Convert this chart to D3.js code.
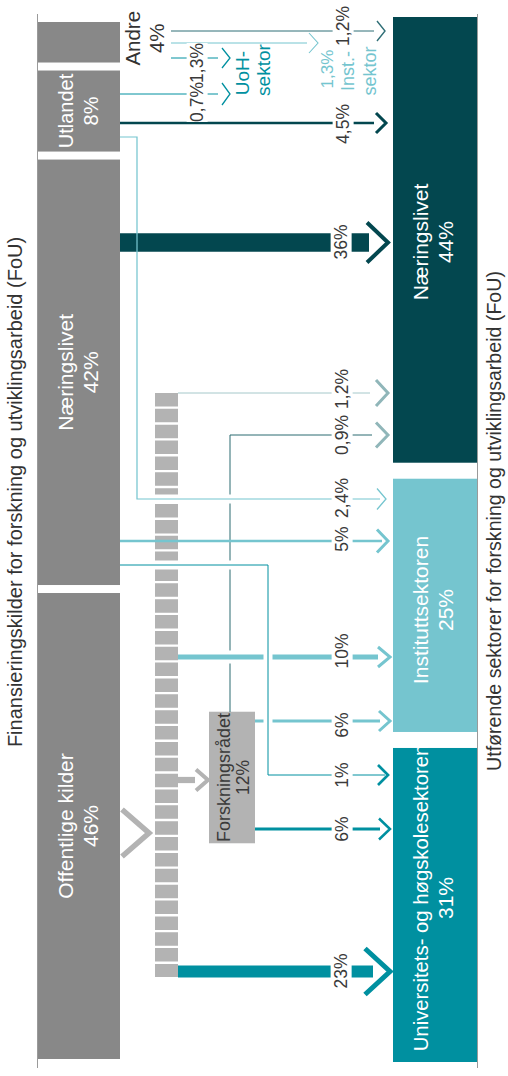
<!DOCTYPE html>
<html>
<head>
<meta charset="utf-8">
<script src="https://cdn.jsdelivr.net/npm/d3@7"></script>
<style>
  body { margin: 0; background: #fff; }
  svg { display: block; font-family: "Liberation Sans", Arial, Helvetica, sans-serif; }
</style>
</head>
<body>
<svg id="chart" width="508" height="1076"></svg>
<script>
// Funding sources (left column), share of total R&D expenditure, %
const sourceNames = ["Andre", "Utlandet", "Næringslivet", "Offentlige kilder"];
const sourceShares = [4, 8, 42, 46];

// Performing sectors (right column), share of total R&D expenditure, %
const sectorNames = ["Næringslivet", "Instituttsektoren", "Universitets- og høgskolesektoren"];
const sectorShares = [44, 25, 31];

// The Research Council channels part of the public funds
const councilName = "Forskningsrådet";
const councilShare = 12;

// Flows between funders and performers
const flowFrom   = ["Andre", "Andre", "Andre", "Utlandet", "Utlandet", "Utlandet",
                    "Næringslivet", "Næringslivet", "Næringslivet",
                    "Offentlige kilder", "Forskningsrådet", "Offentlige kilder",
                    "Forskningsrådet", "Forskningsrådet", "Offentlige kilder", "Offentlige kilder"];
const flowTo     = ["Næringslivet", "Instituttsektoren", "UoH", "UoH", "Næringslivet", "Instituttsektoren",
                    "Næringslivet", "Instituttsektoren", "UoH",
                    "Næringslivet", "Næringslivet", "Instituttsektoren",
                    "Instituttsektoren", "UoH", "UoH", "Forskningsrådet"];
const flowValues = [1.2, 1.3, 1.3, 0.7, 4.5, 2.4, 36, 5, 1, 1.2, 0.9, 10, 6, 6, 23, 12];
const flowLabels = ["1,2%", "1,3%", "1,3%", "0,7%", "4,5%", "2,4%", "36%", "5%", "1%",
                    "1,2%", "0,9%", "10%", "6%", "6%", "23%", ""];

const axisLeftTitle  = "Finansieringskilder for forskning og utviklingsarbeid (FoU)";
const axisRightTitle = "Utførende sektorer for forskning og utviklingsarbeid (FoU)";

// ---------------------------------------------------------------------------
// Styling
const C = {
  src: "#888888",
  council: "#b3b3b3",
  dark: "#03474f",
  darkThin: "#2f6e76",
  light: "#75c5cf",
  teal: "#0090a0",
  muted: "#90b6b9",
  mutedLine: "#a5c8ca",
  text: "#3a3a3a",
  axis: "#9a9a9a"
};
const sectorFill = [C.dark, C.light, C.teal];

const svg = d3.select("#chart");

// Share (%) → pixel length along the vertical axis
const share = d3.scaleLinear().domain([0, 100]).range([0, 1013]);
// Share (%) → stroke width of a flow band
const bandWidth = d3.scaleLinear().domain([0, 36]).range([0, 18.7]);
const widthOf = v => Math.max(1, bandWidth(v));

function stack(values, start, gap) {
  let y = start;
  return values.map(v => {
    const y0 = y, h = share(v);
    y += h + gap;
    return { y0, y1: y0 + h, h };
  });
}
const srcPos = stack(sourceShares, 22, 8);
const secPos = stack(sectorShares, 17, 16);

const SRC_X0 = 38, SRC_X1 = 120, SEC_X0 = 393, SEC_X1 = 477;

// Rotated (bottom-to-top) text centred on (x, y)
function vtext(parent, x, y, str, size, color) {
  return parent.append("text")
    .attr("transform", `translate(${x},${y}) rotate(-90)`)
    .attr("text-anchor", "middle")
    .attr("dy", "0.35em")
    .style("font-size", size + "px")
    .attr("fill", color)
    .text(str);
}

// ---------------------------------------------------------------------------
// Axis rules and titles
svg.append("line").attr("x1", 37.5).attr("x2", 37.5).attr("y1", 14).attr("y2", 1068)
  .attr("stroke", C.axis).attr("stroke-width", 1);
svg.append("line").attr("x1", 477.5).attr("x2", 477.5).attr("y1", 14).attr("y2", 1068)
  .attr("stroke", C.axis).attr("stroke-width", 1);
vtext(svg, 15, 492, axisLeftTitle, 20, "#333");
vtext(svg, 494, 521, axisRightTitle, 19.6, "#333");

// Source bars
const srcG = svg.append("g");
srcG.selectAll("rect").data(sourceNames).join("rect")
  .attr("x", SRC_X0).attr("width", SRC_X1 - SRC_X0)
  .attr("y", (d, i) => srcPos[i].y0).attr("height", (d, i) => srcPos[i].h)
  .attr("fill", C.src);

sourceNames.forEach((name, i) => {
  const cy = (srcPos[i].y0 + srcPos[i].y1) / 2;
  if (i === 0) {
    // the smallest bar carries its label outside
    vtext(srcG, 133, cy - 4, name, 20.5, "#333");
    vtext(srcG, 157, cy - 4, sourceShares[i] + "%", 20.5, "#333");
  } else {
    const size = i === 1 ? 20 : 21;
    vtext(srcG, 66, cy, name, size, "#fff");
    vtext(srcG, 91, cy, sourceShares[i] + "%", size, "#fff");
  }
});

// Sector bars
const secG = svg.append("g");
secG.selectAll("rect").data(sectorNames).join("rect")
  .attr("x", SEC_X0).attr("width", SEC_X1 - SEC_X0)
  .attr("y", (d, i) => secPos[i].y0).attr("height", (d, i) => secPos[i].h)
  .attr("fill", (d, i) => sectorFill[i]);

const sectorLabelY = [242, 610, 898];
const sectorLabelSize = [21, 21, 20.3];
sectorNames.forEach((name, i) => {
  vtext(secG, 421, sectorLabelY[i], name, sectorLabelSize[i], "#fff");
  vtext(secG, 446, sectorLabelY[i], sectorShares[i] + "%", 21, "#fff");
});

// ---------------------------------------------------------------------------
// Routing of each flow (diagram layout): polyline points, arrow tip,
// chevron [depth, half-height, stroke], label anchor
const routes = [
  { pts: [[171, 31], [374, 31]], tip: 385, head: [8, 10, 1.4], line: C.darkThin, hc: C.darkThin, lab: [343, 26] },
  { pts: [[171, 43], [307, 43]], tip: 318, head: [9, 10, 1.1], line: C.light, hc: C.light, lab: null },
  { pts: [[171, 58], [218, 58]], tip: 230, head: [8, 10, 1.3], line: C.teal, hc: C.teal, lab: [197, 63] },
  { pts: [[120, 94], [218, 94]], tip: 230, head: [8, 11, 1.3], line: C.teal, hc: C.teal, lab: [197, 102] },
  { pts: [[120, 123], [374, 123]], tip: 386, head: [10, 10, 3], line: C.dark, hc: C.dark, lab: [343, 124] },
  { pts: [[120, 137], [137, 137], [137, 499], [380, 499]], tip: 386, head: [9, 10.5, 1.3], line: C.light, hc: C.light, lab: [342, 498] },
  { pts: [[120, 242.5], [369, 242.5]], tip: 388, head: [21, 20, 4], line: C.dark, hc: C.dark, lab: [341, 242] },
  { pts: [[120, 541], [382, 541]], tip: 388, head: [11, 11.5, 3], line: C.light, hc: C.light, lab: [342, 539] },
  { pts: [[120, 565], [268, 565], [268, 775], [385, 775]], tip: 388, head: [10, 10, 2.7], line: C.teal, hc: C.teal, lab: [342, 775] },
  { pts: [[178, 393], [370, 393]], tip: 388, head: [12, 13, 3], line: C.mutedLine, hc: C.muted, lab: [342, 389] },
  { pts: [[230, 712], [230, 435], [372, 435]], tip: 388, head: [12, 12.5, 3], line: "#2a6a71", hc: C.muted, lab: [342, 435] },
  { pts: [[178, 657], [378, 657]], tip: 390, head: [12, 10, 3], line: C.light, hc: C.light, lab: [342, 651] },
  { pts: [[255, 721], [380, 721]], tip: 390, head: [11, 10, 3], line: C.light, hc: C.light, lab: [342, 725] },
  { pts: [[255, 829], [380, 829]], tip: 390, head: [11, 10.5, 2.5], line: C.teal, hc: C.teal, lab: [342, 829] },
  { pts: [[178, 971.5], [373, 971.5]], tip: 390, head: [25, 23, 5], line: C.teal, hc: C.teal, lab: [341, 971] },
  { pts: [[178, 780], [195, 780]], tip: 208, head: [12, 10.5, 4], line: C.council, hc: C.council, lab: null }
];

const flowsG = svg.append("g").attr("fill", "none");
const lineGen = d3.line();

function drawHalo(i) {
  flowsG.append("path").attr("d", lineGen(routes[i].pts))
    .attr("stroke", "#fff").attr("stroke-width", widthOf(flowValues[i]) + 8);
}
function drawFlow(i) {
  const r = routes[i];
  const w = widthOf(flowValues[i]);
  flowsG.append("path").attr("d", lineGen(r.pts))
    .attr("stroke", r.line).attr("stroke-width", w).attr("stroke-linejoin", "miter");
  const cy = r.pts[r.pts.length - 1][1];
  const [depth, half, sw] = r.head;
  flowsG.append("path")
    .attr("d", `M${r.tip - depth},${cy - half}L${r.tip},${cy}L${r.tip - depth},${cy + half}`)
    .attr("stroke", r.hc).attr("stroke-width", sw).attr("stroke-linejoin", "miter");
}

// Research Council link up to the business sector sits underneath
drawFlow(10);
drawHalo(5);

// Public funds spine
svg.append("line")
  .attr("x1", 166.5).attr("x2", 166.5).attr("y1", 393).attr("y2", 977)
  .attr("stroke", C.council).attr("stroke-width", 23)
  .attr("stroke-dasharray", "13.5,2.36");

// Research Council box
const boxH = share(councilShare) + 10;
const boxCy = 777.5;
const councilG = svg.append("g");
councilG.append("rect").attr("x", 209).attr("width", 46)
  .attr("y", boxCy - boxH / 2).attr("height", boxH).attr("fill", C.council);
vtext(councilG, 224, boxCy, councilName, 18, C.text);
vtext(councilG, 243, boxCy, councilShare + "%", 17.5, C.text);
svg.node().appendChild(flowsG.node()); // keep flows above spine and box

[6, 0, 1, 2, 3, 4, 9, 7, 5].forEach(drawFlow);
drawHalo(11); drawFlow(11);
[12, 13, 14, 15].forEach(drawFlow);
drawHalo(8); drawFlow(8);

// Public funds enter the spine
flowsG.append("path").attr("d", "M122,809.5L149,833L122,856.5")
  .attr("stroke", C.council).attr("stroke-width", 5.5).attr("stroke-linejoin", "miter");

// Value labels, each on a white patch that breaks its line
const labG = svg.append("g");
flowLabels.forEach((txt, i) => {
  const r = routes[i];
  if (!txt || !r.lab) return;
  const g = labG.append("g").attr("transform", `translate(${r.lab[0]},${r.lab[1]}) rotate(-90)`);
  const t = g.append("text").attr("text-anchor", "middle").attr("dy", "0.35em")
    .style("font-size", "17.5px").attr("fill", C.text).text(txt);
  const b = t.node().getBBox();
  g.insert("rect", "text").attr("x", b.x).attr("y", b.y - 0.5)
    .attr("width", b.width).attr("height", b.height + 1).attr("fill", "#fff");
});

// Sector captions for the small flows at the top
const capG = svg.append("g");
vtext(capG, 242, 73, "UoH-", 19, C.teal);
vtext(capG, 263, 70, "sektor", 19, C.teal);
vtext(capG, 327, 69, flowLabels[1], 17, C.light);
vtext(capG, 348, 71, "Inst.-", 18, C.light);
vtext(capG, 370, 71, "sektor", 18, C.light);
</script>
</body>
</html>
